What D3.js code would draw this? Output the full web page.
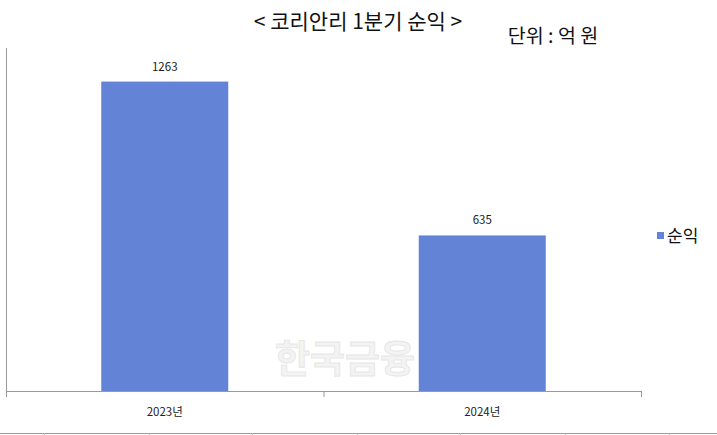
<!DOCTYPE html>
<html>
<head>
<meta charset="utf-8">
<script src="https://cdn.jsdelivr.net/npm/d3@7"></script>
<style>
  body { margin: 0; background: #fff; }
  svg { display: block; font-family: "Noto Sans CJK KR", "Noto Sans", sans-serif; }
</style>
</head>
<body>
<div class="chart"></div>
<script>
// data
var categories = ["2023년", "2024년"];
var values = [1263, 635];
var seriesName = "순익";
var titleText = "< 코리안리 1분기 순익 >";
var unitText = "단위 : 억 원";
var yMax = 1400;

var width = 717, height = 435;
var plot = { left: 6, right: 641, top: 48, bottom: 391 };
var barColor = "#6383d6";

var svg = d3.select("div.chart")
    .append("svg")
    .attr("width", width)
    .attr("height", height);

var x = d3.scaleBand()
    .domain(categories)
    .range([plot.left, plot.right])
    .paddingInner(0.6)
    .paddingOuter(0.3);

var y = d3.scaleLinear()
    .domain([0, yMax])
    .range([plot.bottom, plot.top]);

// watermark
svg.append("text")
    .attr("x", 345)
    .attr("y", 372)
    .attr("text-anchor", "middle")
    .style("font-size", "38px")
    .style("font-weight", "bold")
    .style("fill", "#f3f3f3")
    .style("stroke", "#e6e6e6")
    .style("stroke-width", 0.8)
    .text("한국금융");

// bars
svg.selectAll("rect.bar")
    .data(values)
    .enter()
    .append("rect")
    .attr("class", "bar")
    .attr("x", function (d, i) { return x(categories[i]); })
    .attr("y", function (d) { return y(d); })
    .attr("width", x.bandwidth())
    .attr("height", function (d) { return y(0) - y(d); })
    .attr("fill", barColor);

// value labels
svg.selectAll("text.val")
    .data(values)
    .enter()
    .append("text")
    .attr("class", "val")
    .attr("x", function (d, i) { return x(categories[i]) + x.bandwidth() / 2; })
    .attr("y", function (d) { return y(d) - 11; })
    .attr("text-anchor", "middle")
    .style("font-size", "11.5px")
    .style("fill", "#222")
    .text(function (d) { return d; });

// y axis line (no ticks)
svg.append("line")
    .attr("x1", plot.left + 0.5).attr("x2", plot.left + 0.5)
    .attr("y1", plot.top).attr("y2", plot.bottom)
    .attr("stroke", "#999");

// x axis with category boundary ticks
var xAxis = svg.append("g");
xAxis.append("line")
    .attr("x1", plot.left).attr("x2", plot.right)
    .attr("y1", plot.bottom + 0.5).attr("y2", plot.bottom + 0.5)
    .attr("stroke", "#999");

var step = (plot.right - plot.left) / categories.length;
var boundaries = d3.range(categories.length + 1).map(function (i) { return plot.left + i * step; });
xAxis.selectAll("line.tick")
    .data(boundaries)
    .enter()
    .append("line")
    .attr("class", "tick")
    .attr("x1", function (d) { return d + 0.5; })
    .attr("x2", function (d) { return d + 0.5; })
    .attr("y1", plot.bottom)
    .attr("y2", plot.bottom + 6)
    .attr("stroke", "#999");

xAxis.selectAll("text")
    .data(categories)
    .enter()
    .append("text")
    .attr("x", function (d) { return x(d) + x.bandwidth() / 2; })
    .attr("y", 416)
    .attr("text-anchor", "middle")
    .style("font-size", "11.5px")
    .style("fill", "#222")
    .text(function (d) { return d; });

// title and unit
svg.append("text")
    .attr("x", 358)
    .attr("y", 29)
    .attr("text-anchor", "middle")
    .style("font-size", "21px")
    .style("fill", "#111")
    .text(titleText);

svg.append("text")
    .attr("x", 553)
    .attr("y", 43)
    .attr("text-anchor", "middle")
    .style("font-size", "19.5px")
    .style("fill", "#111")
    .text(unitText);

// legend
svg.append("rect")
    .attr("x", 657).attr("y", 232)
    .attr("width", 7).attr("height", 7)
    .attr("fill", barColor);
svg.append("text")
    .attr("x", 667).attr("y", 242)
    .style("font-size", "17px")
    .style("fill", "#111")
    .text(seriesName);

// spreadsheet grid remnant at bottom
svg.append("line")
    .attr("x1", 0).attr("x2", width)
    .attr("y1", 433.5).attr("y2", 433.5)
    .attr("stroke", "#9a9a9a");
var gridX = [44, 149, 252, 357, 460, 565, 669];
svg.selectAll("line.grid")
    .data(gridX)
    .enter()
    .append("line")
    .attr("class", "grid")
    .attr("x1", function (d) { return d + 0.5; })
    .attr("x2", function (d) { return d + 0.5; })
    .attr("y1", 433).attr("y2", 435)
    .attr("stroke", "#bbb");
</script>
</body>
</html>
